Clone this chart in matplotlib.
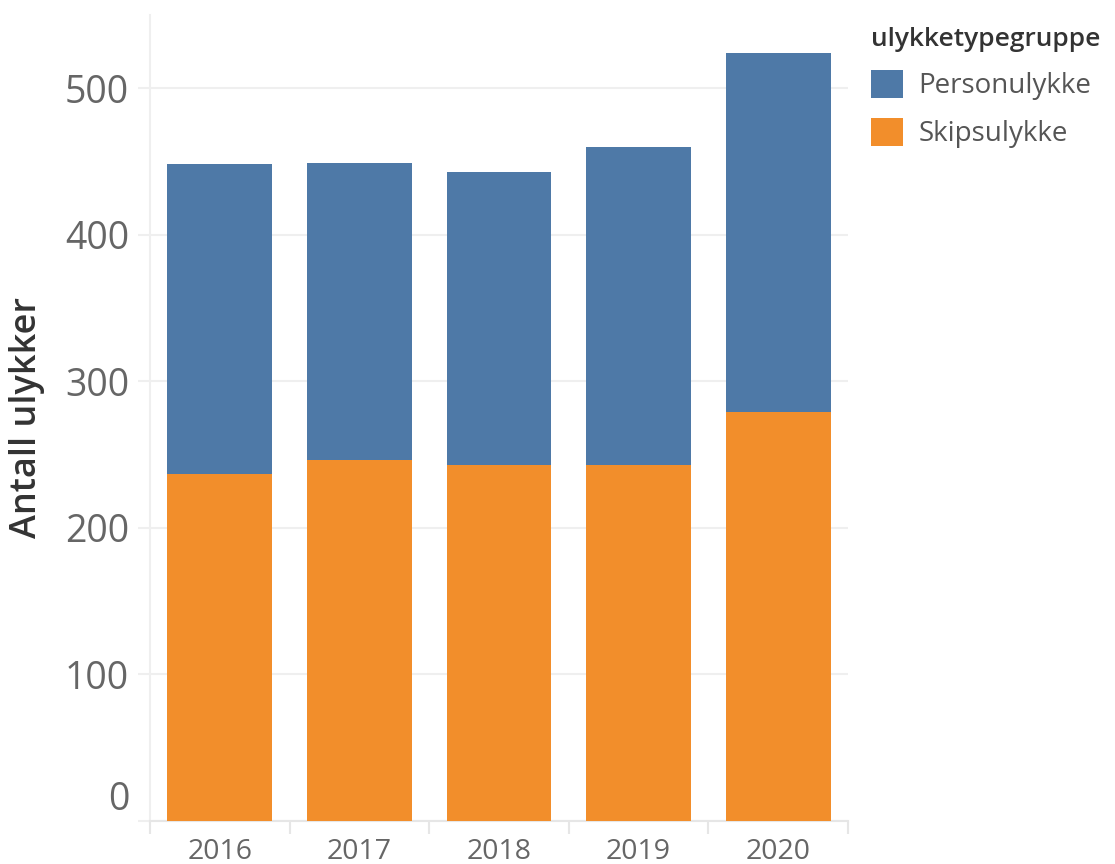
import matplotlib
matplotlib.use("Agg")
import matplotlib.pyplot as plt
import matplotlib.transforms as mtransforms
from matplotlib.patches import Patch
import numpy as np

years = ["2016", "2017", "2018", "2019", "2020"]
skipsulykke = [237, 246, 243, 243, 279]
personulykke = [211, 203, 200, 217, 245]
series_names = ["Personulykke", "Skipsulykke"]
colors = {"Personulykke": "#4e79a7", "Skipsulykke": "#f28e2b"}
yticks = [0, 100, 200, 300, 400, 500]

plt.rcParams['font.family'] = ['Open Sans', 'DejaVu Sans']

fig = plt.figure(figsize=(11.15, 8.64), dpi=100)
ax = fig.add_axes([150/1115, 43/864, (848-150)/1115, (821-15)/864])

x = np.arange(len(years))
ax.bar(x, skipsulykke, width=0.75, color=colors["Skipsulykke"], zorder=3)
ax.bar(x, personulykke, width=0.75, bottom=skipsulykke, color=colors["Personulykke"], zorder=3)

ax.set_xlim(-0.5, len(years) - 0.5)
ax.set_ylim(0, 550)

grid_c = "#efefef"
ax.set_yticks(yticks)
ax.set_yticklabels([str(t) for t in yticks])
ax.yaxis.grid(True, color=grid_c, linewidth=1.5, zorder=0)
ax.tick_params(axis='y', length=9, color=grid_c, width=1.5, labelsize=27, labelcolor="#666666", pad=6)

ax.set_xticks(x)
ax.set_xticklabels(years)
ax.set_xticks(np.arange(-0.5, len(years), 1.0), minor=True)
ax.tick_params(axis='x', which='major', length=0, labelsize=20.5, labelcolor="#666666", pad=12)
ax.tick_params(axis='x', which='minor', length=9, color="#e6e6e6", width=1.5)

for s in ["top", "right"]:
    ax.spines[s].set_visible(False)
ax.spines["left"].set_color(grid_c)
ax.spines["left"].set_linewidth(1.5)
ax.spines["bottom"].set_color("#e6e6e6")
ax.spines["bottom"].set_linewidth(1.5)

# shift the "0" label upward as in the reference
lbl0 = ax.get_yticklabels()[0]
lbl0.set_transform(lbl0.get_transform() + mtransforms.ScaledTranslation(0, 26/100, fig.dpi_scale_trans))

ax.set_ylabel("Antall ulykker", fontsize=26, color="#333333", fontweight='semibold')
ax.yaxis.set_label_coords(-0.150, 0.5)

handles = [Patch(facecolor=colors[n], edgecolor='none') for n in series_names]
leg = fig.legend(handles, series_names, loc='upper left', bbox_to_anchor=(871/1115, 1 - 27/864),
                 frameon=False, fontsize=20, title="ulykketypegruppe",
                 title_fontproperties={'weight': 'semibold', 'size': 19},
                 alignment='left', handlelength=1.15, handleheight=1.15,
                 handletextpad=0.55, labelspacing=0.65, borderaxespad=0, borderpad=0)
for t in leg.get_texts():
    t.set_color("#555555")
leg.get_title().set_color("#333333")

fig.savefig("out.png", dpi=100)
